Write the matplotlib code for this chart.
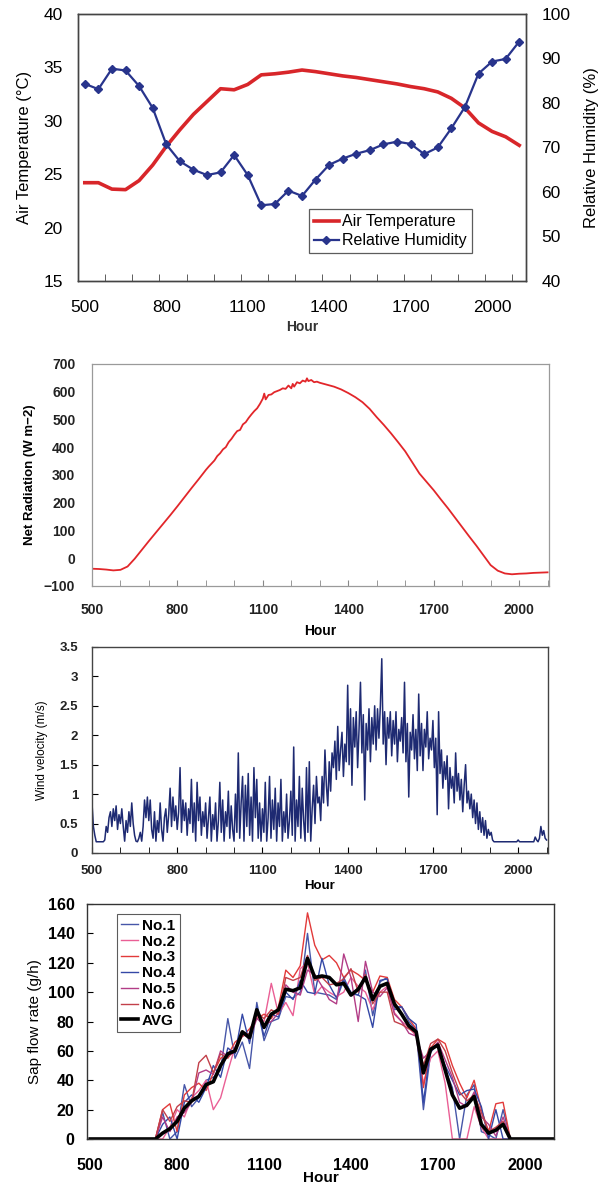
import numpy as np
import matplotlib
matplotlib.use('Agg')
import matplotlib.pyplot as plt
from matplotlib.ticker import FixedLocator, MultipleLocator, FuncFormatter

plt.rcParams['font.family'] = ['Liberation Sans', 'DejaVu Sans']

# ---------------- data ----------------
# panel 1: air temperature and relative humidity, every 50
hour_th = np.arange(500, 2101, 50)
air_temp = [24.2, 24.2, 23.6, 23.55, 24.4, 25.85, 27.6, 29.15, 30.6, 31.8,
            33.0, 32.9, 33.4, 34.3, 34.4, 34.55, 34.75, 34.6, 34.4, 34.2,
            34.05, 33.85, 33.65, 33.45, 33.2, 33.0, 32.7, 32.1, 31.2, 29.8,
            29.0, 28.5, 27.7]
rel_hum = [84.3, 83.1, 87.7, 87.3, 83.8, 78.9, 70.7, 66.9, 65.0, 63.8,
           64.4, 68.3, 63.8, 57.0, 57.3, 60.3, 59.1, 62.8, 66.1, 67.5,
           68.6, 69.4, 70.7, 71.3, 70.8, 68.5, 70.0, 74.3, 79.1, 86.6,
           89.3, 89.9, 93.8]

# panel 2: net radiation
hour_rn = [500, 525, 550, 575, 600, 625, 650, 675, 700, 725, 750, 775, 800,
           825, 850, 875, 900, 910, 920, 930, 940, 950, 960, 970, 980, 990,
           1000, 1010, 1020, 1030, 1040, 1050, 1060, 1070, 1080, 1090, 1100,
           1105, 1110, 1120, 1130, 1140, 1150, 1160, 1170, 1180, 1190, 1200,
           1205, 1210, 1220, 1230, 1240, 1250, 1255, 1260, 1270, 1280, 1290,
           1300, 1325, 1350, 1375, 1400, 1425, 1450, 1475, 1500, 1525, 1550,
           1575, 1600, 1625, 1650, 1675, 1700, 1725, 1750, 1775, 1800, 1825,
           1850, 1875, 1900, 1925, 1950, 1975, 2000, 2025, 2050, 2075, 2100]
net_rad = [-38, -39, -41, -44, -42, -30, -2, 30, 62, 93, 124, 155, 187,
           220, 253, 285, 318, 330, 341, 352, 368, 378, 392, 400, 418, 430,
           445, 458, 462, 482, 490, 505, 518, 530, 540, 556, 575,
           593, 572, 588, 590, 598, 602, 606, 612, 610, 622, 612,
           628, 618, 634, 630, 640, 636, 648, 638, 642, 634, 636,
           632, 625, 618, 608, 595, 580, 562, 538, 508, 480, 450,
           418, 385, 345, 305, 275, 245, 212, 180, 146, 112, 78,
           45, 10, -25, -45, -55, -58, -56, -55, -53, -52, -51]

# panel 3: wind velocity, every 5
hour_wv = np.arange(500, 2101, 5)
wind = [0.85, 0.45, 0.30, 0.19, 0.19, 0.19, 0.19, 0.19, 0.19, 0.22,
        0.45, 0.35, 0.60, 0.70, 0.45, 0.75, 0.55, 0.80, 0.40, 0.65,
        0.50, 0.75, 0.45, 0.20, 0.55, 0.35, 0.70, 0.45, 0.85, 0.50,
        0.30, 0.20, 0.19, 0.25, 0.35, 0.20, 0.45, 0.90, 0.60, 0.95,
        0.55, 0.90, 0.40, 0.25, 0.70, 0.20, 0.55, 0.35, 0.85, 0.40,
        0.20, 0.60, 0.75, 0.35, 0.65, 1.10, 0.45, 0.95, 0.55, 0.80,
        0.40, 0.70, 1.45, 0.35, 0.90, 0.55, 0.85, 0.30, 0.75, 0.50,
        1.25, 0.35, 0.85, 0.20, 1.20, 0.55, 0.95, 0.30, 0.70, 0.45,
        0.85, 0.25, 0.60, 0.95, 0.20, 0.65, 0.40, 0.85, 0.20, 0.55,
        1.20, 0.35, 0.90, 0.20, 0.70, 0.45, 1.05, 0.25, 0.80, 0.40,
        0.20, 1.00, 0.35, 1.70, 0.25, 0.85, 1.30, 0.20, 1.15, 0.45,
        1.35, 0.30, 0.95, 0.20, 1.45, 0.60, 1.25, 0.25, 0.85, 0.20,
        0.75, 0.35, 1.20, 0.20, 0.60, 1.30, 0.25, 0.90, 0.40, 1.10,
        0.20, 0.85, 0.45, 1.25, 0.20, 0.70, 0.35, 1.00, 0.25, 0.55,
        1.05, 0.30, 1.80, 0.20, 0.90, 0.45, 1.30, 0.25, 1.10, 0.55,
        0.20, 1.45, 0.35, 1.55, 0.20, 0.75, 1.15, 0.50, 1.30, 0.85,
        0.95, 0.55, 1.30, 0.85, 1.75, 1.15, 0.80, 1.55, 1.05, 1.70,
        1.45, 1.90, 1.25, 2.15, 1.40, 1.75, 2.05, 1.30, 1.85, 1.55,
        2.85, 1.50, 2.45, 1.15, 2.30, 1.80, 2.40, 1.45, 2.10, 2.90,
        1.70, 2.35, 0.90, 2.20, 1.75, 2.45, 1.55, 2.30, 1.85, 2.50,
        1.75, 2.45, 1.95, 2.50, 3.30, 1.85, 2.40, 1.50, 2.30, 1.95,
        2.40, 1.65, 2.25, 1.85, 2.40, 1.55, 2.10, 1.90, 2.30, 1.70,
        2.90, 1.55, 2.20, 0.95, 2.05, 1.75, 2.35, 1.60, 2.10, 1.40,
        2.70, 1.65, 2.20, 1.40, 2.10, 1.80, 2.40, 1.60, 1.95, 1.75,
        2.25, 1.45, 1.95, 0.65, 2.40, 1.35, 1.75, 1.10, 1.55, 1.25,
        1.65, 0.75, 1.45, 1.10, 1.30, 0.85, 1.70, 1.05, 1.35, 0.90,
        1.25, 0.70, 1.15, 1.50, 0.85, 1.05, 0.75, 1.00, 0.60, 0.90,
        0.50, 0.85, 0.40, 0.70, 0.35, 0.60, 0.30, 0.55, 0.25, 0.40,
        0.30, 0.35, 0.22, 0.19, 0.19, 0.19, 0.19, 0.19, 0.19, 0.19,
        0.19, 0.19, 0.19, 0.19, 0.19, 0.19, 0.19, 0.19, 0.19, 0.19,
        0.22, 0.19, 0.19, 0.19, 0.19, 0.19, 0.19, 0.19, 0.19, 0.19,
        0.19, 0.19, 0.27, 0.22, 0.19, 0.25, 0.45, 0.30, 0.38, 0.25,
        0.22]

# panel 4: sap flow, every 25
hour_sf = np.arange(500, 2101, 25)
zeros_am = [0] * 9          # 500 - 700
zeros_pm = [0] * 5          # 2000 - 2100
sap_no1 = zeros_am + [0, 18, 0, 5, 37, 22, 28, 40, 42, 47, 82, 55, 66, 48, 93, 67, 80,
                      82, 97, 96, 100, 140, 100, 99, 98, 95, 108, 100, 98, 115, 84, 107,
                      110, 88, 90, 80, 74, 20, 59, 65, 47, 35, 0, 30, 37, 5, 3, 0, 20,
                      0, 0] + zeros_pm
sap_no2 = zeros_am + [0, 0, 8, 20, 15, 28, 33, 40, 20, 28, 46, 63, 70, 72, 84, 80, 106,
                      85, 93, 84, 116, 120, 98, 104, 100, 97, 100, 110, 104, 100, 88,
                      100, 104, 86, 80, 76, 70, 38, 55, 60, 38, 0, 0, 0, 22, 8, 0, 0,
                      0, 0, 0] + zeros_pm
sap_no3 = zeros_am + [0, 20, 24, 5, 30, 35, 38, 33, 45, 55, 57, 66, 70, 75, 82, 85, 82,
                      90, 115, 110, 118, 154, 132, 122, 125, 120, 110, 115, 112, 108,
                      100, 111, 110, 95, 90, 82, 75, 35, 62, 68, 65, 50, 38, 28, 40,
                      20, 5, 24, 25, 0, 0] + zeros_pm
sap_no4 = zeros_am + [0, 10, 15, 0, 25, 30, 25, 35, 50, 42, 62, 58, 85, 65, 90, 70, 85,
                      83, 100, 95, 108, 100, 99, 123, 105, 96, 110, 99, 98, 95, 76,
                      108, 109, 90, 90, 82, 78, 25, 62, 63, 50, 40, 30, 33, 34, 22, 0,
                      20, 0, 0, 0] + zeros_pm
sap_no5 = zeros_am + [0, 15, 5, 15, 18, 25, 45, 47, 44, 60, 56, 60, 72, 68, 82, 78, 80,
                      86, 105, 100, 98, 115, 112, 104, 95, 92, 126, 110, 80, 121, 100,
                      97, 103, 85, 80, 72, 70, 55, 60, 66, 54, 42, 25, 22, 32, 15, 10,
                      2, 15, 0, 0] + zeros_pm
sap_no6 = zeros_am + [0, 20, 12, 22, 26, 25, 52, 57, 45, 58, 55, 62, 70, 72, 86, 82, 88,
                      85, 110, 108, 110, 125, 108, 110, 105, 106, 109, 116, 100, 112,
                      92, 100, 100, 80, 78, 75, 72, 50, 65, 68, 60, 45, 32, 26, 30, 18,
                      5, 8, 12, 0, 0] + zeros_pm
sap_avg = zeros_am + [0, 4, 7, 12, 21, 26, 29, 37, 39, 50, 58, 60, 73, 69, 88, 76, 85,
                      88, 102, 101, 103, 123, 110, 111, 110, 105, 106, 98, 102, 110, 95,
                      104, 106, 92, 85, 77, 73, 45, 61, 64, 47, 30, 21, 23, 29, 10, 4,
                      6, 10, 0, 0] + zeros_pm
sap_names = ['No.1', 'No.2', 'No.3', 'No.4', 'No.5', 'No.6']
sap_colors = ['#4656a8', '#ea5f95', '#e23a3a', '#3448a6', '#b23c86', '#c2404a']

hour_ticks = [500, 800, 1100, 1400, 1700, 2000]

fig = plt.figure(figsize=(6.0, 11.83), dpi=100)

# ---------------- panel 1 ----------------
ax1 = fig.add_axes([0.13, 0.7625, 0.7467, 0.2257])
l1, = ax1.plot(hour_th, air_temp, color='#d8262a', lw=2.6, label='Air Temperature')
ax1.set_xlim(475, 2125)
ax1.set_ylim(15, 40)
ax1.set_yticks(range(15, 41, 5))
ax1.set_xticks(hour_ticks)
ax1.xaxis.set_minor_locator(FixedLocator(range(475, 2126, 100)))
ax1.tick_params(axis='x', which='major', length=0, pad=14, labelsize=12.5)
ax1.tick_params(axis='x', which='minor', direction='in', length=5, color='#444444')
ax1.tick_params(axis='y', length=0, pad=11, labelsize=12.5)
ax1.set_ylabel('Air Temperature (\u00b0C)', fontsize=12, labelpad=8)
ax1.set_xlabel('Hour', fontsize=10, fontweight='bold', labelpad=3, color='#333333')
ax1b = ax1.twinx()
l2, = ax1b.plot(hour_th, rel_hum, color='#28348c', lw=1.6, marker='D', ms=3.6,
                label='Relative Humidity')
ax1b.set_ylim(40, 100)
ax1b.set_yticks(range(40, 101, 10))
ax1b.tick_params(axis='y', length=0, pad=11, labelsize=12.5)
ax1b.set_ylabel('Relative Humidity (%)', fontsize=12, labelpad=10)
for a in (ax1, ax1b):
    for s in a.spines.values():
        s.set_color('#444444')
        s.set_linewidth(1.0)
leg1 = ax1b.legend(handles=[l1, l2], loc='lower left', bbox_to_anchor=(0.515, 0.105),
                   fontsize=11.5, frameon=True, fancybox=False, borderpad=0.3,
                   labelspacing=0.25, handlelength=1.6, handletextpad=0.2,
                   borderaxespad=0)
leg1.get_frame().set_edgecolor('#333333')
leg1.get_frame().set_linewidth(0.9)

# ---------------- panel 2 ----------------
ax2 = fig.add_axes([0.1533, 0.5047, 0.7617, 0.1877])
ax2.plot(hour_rn, net_rad, color='#e2262a', lw=1.3)
ax2.set_xlim(500, 2105)
ax2.set_ylim(-100, 700)
ax2.set_yticks(range(-100, 701, 100))
ax2.set_xticks(hour_ticks)
ax2.xaxis.set_minor_locator(MultipleLocator(100))
ax2.tick_params(axis='x', which='both', direction='in', length=4, color='#888888',
                pad=12, labelsize=10)
ax2.tick_params(axis='y', length=0, pad=12, labelsize=10)
for lab in ax2.get_xticklabels() + ax2.get_yticklabels():
    lab.set_fontweight('bold')
    lab.set_color('#222222')
ax2.set_ylabel('Net Radiation (W m\u22122)', fontsize=9.5, fontweight='bold', labelpad=6)
ax2.set_xlabel('Hour', fontsize=10, fontweight='bold', labelpad=5)
for s in ax2.spines.values():
    s.set_color('#9a9a9a')
    s.set_linewidth(0.9)

# ---------------- panel 3 ----------------
ax3 = fig.add_axes([0.1533, 0.279, 0.76, 0.1741])
ax3.plot(hour_wv, wind, color='#1e2a72', lw=1.1)
ax3.set_xlim(500, 2105)
ax3.set_ylim(0, 3.5)
ax3.yaxis.set_major_locator(MultipleLocator(0.5))
ax3.yaxis.set_major_formatter(FuncFormatter(lambda v, p: f'{v:g}'))
ax3.set_xticks(hour_ticks)
ax3.xaxis.set_minor_locator(MultipleLocator(100))
ax3.tick_params(axis='x', which='both', direction='in', length=4, pad=9, labelsize=9.5)
ax3.tick_params(axis='y', direction='in', length=4, pad=10, labelsize=9.5)
for lab in ax3.get_xticklabels() + ax3.get_yticklabels():
    lab.set_fontweight('bold')
    lab.set_color('#222222')
ax3.set_ylabel('Wind velocity (m/s)', fontsize=8.5, labelpad=8)
ax3.set_xlabel('Hour', fontsize=9.5, fontweight='bold', labelpad=2)
for s in ax3.spines.values():
    s.set_color('#444444')
    s.set_linewidth(1.0)

# ---------------- panel 4 ----------------
ax4 = fig.add_axes([0.145, 0.0372, 0.778, 0.1986])
sap_series = [sap_no1, sap_no2, sap_no3, sap_no4, sap_no5, sap_no6]
for name, vals, col in zip(sap_names, sap_series, sap_colors):
    ax4.plot(hour_sf, vals, color=col, lw=1.0, label=name)
ax4.plot(hour_sf, sap_avg, color='black', lw=2.6, label='AVG')
ax4.set_xlim(489, 2100)
ax4.set_ylim(0, 160)
ax4.set_yticks(range(0, 161, 20))
ax4.set_xticks(hour_ticks)
ax4.tick_params(axis='x', length=0, pad=14, labelsize=11.5)
ax4.tick_params(axis='y', direction='in', length=4, pad=9, labelsize=11.5)
for lab in ax4.get_xticklabels() + ax4.get_yticklabels():
    lab.set_fontweight('bold')
ax4.set_ylabel('Sap flow rate (g/h)', fontsize=11, labelpad=4)
ax4.set_xlabel('Hour', fontsize=11, fontweight='bold', labelpad=-2)
for s in ax4.spines.values():
    s.set_color('#333333')
    s.set_linewidth(1.0)
leg4 = ax4.legend(loc='upper left', bbox_to_anchor=(0.064, 0.957),
                  frameon=True, fancybox=False, borderpad=0.3, labelspacing=0.12,
                  handlelength=1.1, handletextpad=0.25, borderaxespad=0,
                  prop={'weight': 'bold', 'size': 11})
leg4.get_frame().set_edgecolor('#333333')
leg4.get_frame().set_linewidth(0.8)

fig.savefig('out.png', dpi=100)
